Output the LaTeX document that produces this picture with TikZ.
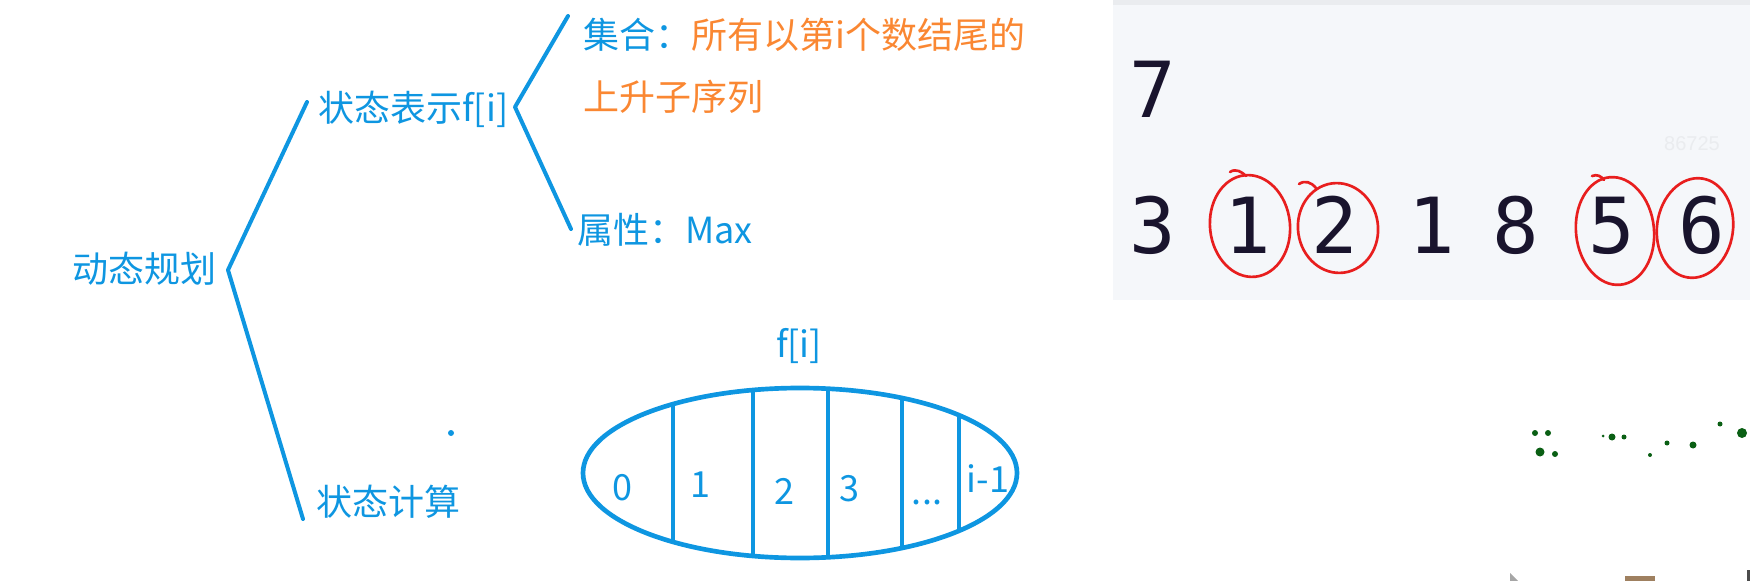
\documentclass[tikz,border=0pt]{standalone}
\usepackage{fontspec}
\usepackage{xcolor}
\newfontfamily\cjkfont{Noto Sans CJK SC}
\newfontfamily\monofont{DejaVu Sans Mono}
\newfontfamily\markfont{Liberation Sans}
\definecolor{mapblue}{RGB}{14,150,225}
\definecolor{maporange}{RGB}{250,135,50}
\definecolor{ringred}{RGB}{232,30,30}
\definecolor{panelgray}{RGB}{245,247,250}
\definecolor{paneltop}{RGB}{234,236,239}
\definecolor{digitink}{RGB}{25,20,45}
\definecolor{leafgreen}{RGB}{10,95,20}

\begin{document}
\begin{tikzpicture}[x=0.75pt,y=0.75pt,yscale=-1,xscale=1,
  txt/.style={anchor=west,inner sep=0pt,text=mapblue,font=\cjkfont\fontsize{27}{33}\selectfont},
  cell/.style={anchor=base,inner sep=0pt,text=mapblue,font=\cjkfont\fontsize{27}{33}\selectfont},
  branch/.style={draw=mapblue,line width=3pt,line cap=round,line join=round},
  digit/.style={anchor=base,inner sep=0pt,text=digitink,font=\monofont\fontsize{58}{58}\selectfont},
  ring/.style={draw=ringred,line width=2pt,line cap=round}]
\useasboundingbox (0,0) rectangle (1750,581);

%Screenshot panel
\fill[panelgray] (1113,0) rectangle (1750,300);
\fill[paneltop] (1113,0) rectangle (1750,5);
\node[anchor=center,inner sep=0pt,text=paneltop,font=\markfont\fontsize{15}{15}\selectfont] (mark) at (1692,144) {86725};
\node[digit] (n0) at (1153,118) {7};
\foreach \name/\x/\d in {n1/1153/3,n2/1248/1,n3/1335/2,n4/1432/1,n5/1516/8,n6/1612/5,n7/1702/6}
  \node[digit] (\name) at (\x,253) {\d};

%Red rings
\draw[ring,rotate around={-6:(1250,226)}] (1250,226) ellipse [x radius=40, y radius=51];
\draw[ring] (1230,172) .. controls (1236,168) and (1242,172) .. (1246,176);
\draw[ring,rotate around={-8:(1338,228)}] (1338,228) ellipse [x radius=40, y radius=45];
\draw[ring] (1299,184) .. controls (1305,180) and (1311,182) .. (1316,188);
\draw[ring,rotate around={-6:(1615,231)}] (1615,231) ellipse [x radius=39, y radius=54];
\draw[ring] (1592,176) .. controls (1597,174) and (1601,176) .. (1604,180);
\draw[ring,rotate around={8:(1695,228)}] (1695,228) ellipse [x radius=38, y radius=50];

%Photo specks
\foreach \x/\y/\r in {1535/433/3,1548/433/3,1540/452/4.5,1555/454/3,1612/437/3.5,1624/437/2.5,1667/443/2.5,1693/445/3.5,1720/424/2.5,1742/433/5,1650/455/2,1603/436/1.5}
  \fill[leafgreen] (\x,\y) circle [radius=\r];
\fill[gray!70] (1510,573) -- (1518,581) -- (1510,581) -- cycle;
\fill[brown!50!gray] (1625,576) rectangle (1655,581);
\fill[black!70] (1747,570) rectangle (1750,581);

%Tree
\node[txt] (dp) at (72,269) {动态规划};
\node[txt] (rep) at (318,109) {状态表示f[i]};
\node[txt] (calc) at (316,502) {状态计算};
\node[txt] (set1) at (583,35) {集合：\textcolor{maporange}{所有以第i个数结尾的}};
\node[txt,text=maporange] (set2) at (583,97) {上升子序列};
\node[txt] (attr) at (577,230) {属性：Max};

\coordinate (v1) at (228,270);
\coordinate (t1) at (307,102);
\coordinate (t2) at (303,519);
\coordinate (v2) at (515,107);
\coordinate (t3) at (568,16);
\coordinate (t4) at (571,229);
\draw[branch] (t1) -- (v1) -- (t2);
\draw[branch] (t3) -- (v2) -- (t4);
\fill[mapblue] (451,433) circle [radius=3];

%Set f[i]
\node[cell,anchor=center] (flabel) at (799,346) {f[i]};
\draw[branch,line width=3.5pt] (800,473) ellipse [x radius=217, y radius=85];
\begin{scope}
\clip (800,473) ellipse [x radius=217, y radius=85];
\foreach \x in {673,753,828,902,959}
  \draw[branch] (\x,380) -- (\x,570);
\end{scope}
\node[cell] (c0) at (622,500) {0};
\node[cell] (c1) at (700,497) {1};
\node[cell] (c2) at (784,504) {2};
\node[cell] (c3) at (849,501) {3};
\node[cell] (c4) at (927,504) {...};
\node[cell] (c5) at (988,492) {i-1};

\end{tikzpicture}
\end{document}
